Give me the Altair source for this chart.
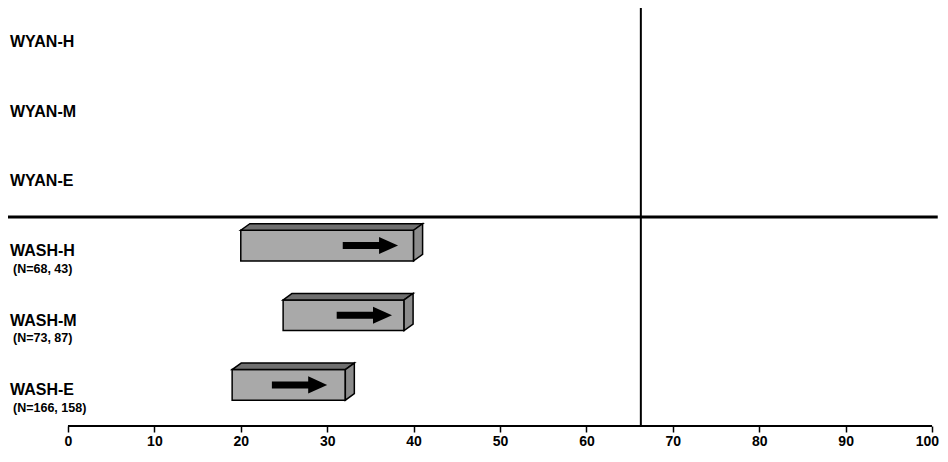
import altair as alt
import pandas as pd

# ---- data ----
row_labels = ["WYAN-H", "WYAN-M", "WYAN-E", "WASH-H", "WASH-M", "WASH-E"]
n_labels = ["", "", "", "(N=68, 43)", "(N=73, 87)", "(N=166, 158)"]
bar_rows = ["WASH-H", "WASH-M", "WASH-E"]
bar_start = [20.0, 24.9, 19.0]
bar_end = [40.0, 38.9, 32.1]
arrow_start = [31.8, 31.1, 23.6]
arrow_end = [38.2, 37.5, 30.0]
reference_value = 66.3
x_ticks = list(range(0, 101, 10))

# ---- layout / style constants ----
W, H = 930, 418
X_MIN, X_MAX = -6.94, 100.69
Y_MIN, Y_MAX = 0.0, 6.0
px_x = W / (X_MAX - X_MIN)
px_y = H / (Y_MAX - Y_MIN)
DEPTH_X = 9 / px_x
DEPTH_Y = 6.5 / px_y
FACE_TOP, FACE_BOT = 0.19, 0.63
LABEL_OFF, N_OFF = 0.49, 0.74
DIVIDER_ROW = 3
DIVIDER_END = 100.66
FONT = "Liberation Sans"

xscale = alt.Scale(domain=[X_MIN, X_MAX], nice=False, zero=False)
yscale = alt.Scale(domain=[Y_MIN, Y_MAX], reverse=True, nice=False, zero=False)

rows = pd.DataFrame({"label": row_labels, "n": n_labels, "row": range(len(row_labels))})
rows["ly"] = rows["row"] + LABEL_OFF
rows["ny"] = rows["row"] + N_OFF
rows["lx"] = X_MIN

row_index = {l: i for i, l in enumerate(row_labels)}
bars = pd.DataFrame({"bar": bar_rows, "x0": bar_start, "x1": bar_end,
                     "a0": arrow_start, "a1": arrow_end})
bars["yt"] = [row_index[b] + FACE_TOP for b in bar_rows]
bars["yb"] = [row_index[b] + FACE_BOT for b in bar_rows]
bars["yc"] = (bars["yt"] + bars["yb"]) / 2

top_rows, side_rows = [], []
for _, b in bars.iterrows():
    top_rows.append({"bar": b.bar, "y": b.yt, "x": b.x0, "x2": b.x1})
    top_rows.append({"bar": b.bar, "y": b.yt - DEPTH_Y, "x": b.x0 + DEPTH_X, "x2": b.x1 + DEPTH_X})
    side_rows.append({"bar": b.bar, "x": b.x1, "y": b.yt, "y2": b.yb})
    side_rows.append({"bar": b.bar, "x": b.x1 + DEPTH_X, "y": b.yt - DEPTH_Y, "y2": b.yb - DEPTH_Y})
top = pd.DataFrame(top_rows)
side = pd.DataFrame(side_rows)

ticks_df = pd.DataFrame({"v": x_ticks})

axis = alt.Axis(values=x_ticks, domain=False, grid=False, tickSize=6, tickWidth=1.5,
                tickColor="black", labelFont=FONT, labelFontWeight="bold",
                labelFontSize=14, labelColor="black", labelPadding=2, title=None,
                labelFlush=7, labelFlushOffset=6.5)

base = alt.Chart(ticks_df).mark_rule(color="black", strokeWidth=2).encode(
    x=alt.X("min(v):Q", scale=xscale, axis=axis),
    x2="max(v):Q",
    y=alt.datum(Y_MAX, scale=yscale, axis=None),
)

divider = alt.Chart(pd.DataFrame({"a": [X_MIN], "b": [DIVIDER_END], "y": [DIVIDER_ROW]})).mark_rule(
    color="black", strokeWidth=3).encode(
    x=alt.X("a:Q", scale=xscale), x2="b:Q", y=alt.Y("y:Q", scale=yscale, axis=None))

vline = alt.Chart(pd.DataFrame({"v": [reference_value], "y0": [Y_MIN], "y1": [Y_MAX]})).mark_rule(
    color="black", strokeWidth=2).encode(
    x=alt.X("v:Q", scale=xscale), y=alt.Y("y0:Q", scale=yscale, axis=None), y2="y1:Q")

front = alt.Chart(bars).mark_rect(fill="#a9a9a9", stroke="black", strokeWidth=1.5).encode(
    x=alt.X("x0:Q", scale=xscale), x2="x1:Q",
    y=alt.Y("yt:Q", scale=yscale, axis=None), y2="yb:Q")

top_face = alt.Chart(top).mark_area(orient="horizontal", fill="#6f6f6f", stroke="black",
                                    strokeWidth=1.5).encode(
    y=alt.Y("y:Q", scale=yscale, axis=None),
    x=alt.X("x:Q", scale=xscale), x2="x2:Q", detail="bar:N")

side_face = alt.Chart(side).mark_area(orient="vertical", fill="#8c8c8c", stroke="black",
                                      strokeWidth=1.5).encode(
    x=alt.X("x:Q", scale=xscale),
    y=alt.Y("y:Q", scale=yscale, axis=None), y2="y2:Q", detail="bar:N")

shaft = alt.Chart(bars).mark_rule(color="black", strokeWidth=7, x2Offset=-12).encode(
    x=alt.X("a0:Q", scale=xscale), x2="a1:Q", y=alt.Y("yc:Q", scale=yscale, axis=None))

head = alt.Chart(bars).mark_point(shape="M -2 -0.9 L 0 0 L -2 0.9 Z", size=361, filled=True,
                                  color="black", opacity=1, strokeWidth=0).encode(
    x=alt.X("a1:Q", scale=xscale), y=alt.Y("yc:Q", scale=yscale, axis=None))

labels = alt.Chart(rows).mark_text(align="left", baseline="middle", dx=2, font=FONT,
                                   fontWeight="bold", fontSize=16, color="black").encode(
    x=alt.X("lx:Q", scale=xscale), y=alt.Y("ly:Q", scale=yscale, axis=None), text="label:N")

nlab = alt.Chart(rows).mark_text(align="left", baseline="middle", dx=5, font=FONT,
                                 fontWeight="bold", fontSize=12.5, color="black").encode(
    x=alt.X("lx:Q", scale=xscale), y=alt.Y("ny:Q", scale=yscale, axis=None), text="n:N")

chart = alt.layer(base, divider, vline, front, top_face, side_face, shaft, head, labels, nlab).properties(
    width=W, height=H,
    background="white",
    autosize=alt.AutoSizeParams(type="none"),
    padding={"left": 0, "top": 0, "right": 2, "bottom": 22},
).configure_view(strokeWidth=0)

chart.save("out.html", embed_options={"renderer": "svg", "actions": False})
